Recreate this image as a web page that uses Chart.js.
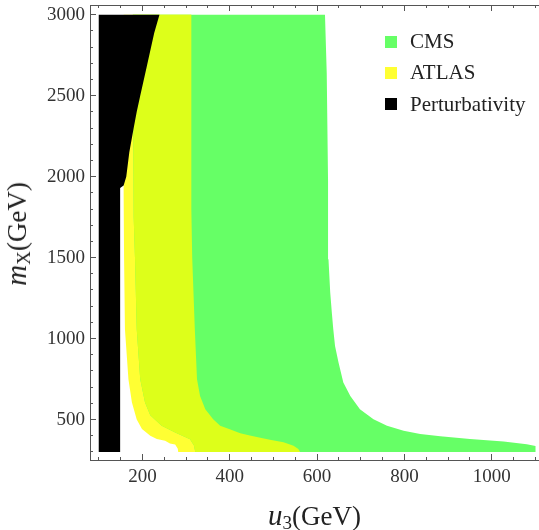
<!DOCTYPE html>
<html>
<head>
<meta charset="utf-8">
<script src="https://cdn.jsdelivr.net/npm/chart.js@4.4.0/dist/chart.umd.min.js"></script>
<style>
body { margin: 0; background: #fff; }
#wrap { position: relative; width: 539px; height: 530px; font-family: "Liberation Serif", "Times New Roman", serif; color: #222; }
#legend { position: absolute; left: 385px; top: 26px; font-size: 21px; }
#legend .row { display: flex; align-items: center; height: 31.3px; }
#legend .box { width: 12px; height: 12px; margin-right: 13px; }
.title { position: absolute; font-size: 27px; line-height: 27px; white-space: nowrap; }
.title i { font-size: 29px; }
.title .sub { font-size: 19px; position: relative; top: 4px; }
#xTitle { left: 90px; width: 449px; top: 502px; text-align: center; }
#yTitle { left: 18px; top: 234px; transform: translate(-50%, -50%) rotate(-90deg); }
</style>
</head>
<body>
<div id="wrap">
  <canvas id="chart" width="539" height="530"></canvas>
  <div id="legend"></div>
  <div class="title" id="xTitle"><i>u</i><span class="sub">3</span>(GeV)</div>
  <div class="title" id="yTitle"><i>m</i><span class="sub">X</span>(GeV)</div>
</div>
<script>
// region boundaries (u3 in GeV, mX in GeV)
var blackX = [100, 149, 149, 157, 163, 170, 180, 187, 195, 210, 227, 239, 100];
var blackY = [300, 300, 1930, 1945, 2000, 2150, 2300, 2400, 2500, 2680, 2887, 3000, 3000];

// ATLAS left edge, top to bottom
var atlasLeftX = [157, 157, 158, 160, 168, 176, 187, 199, 218, 233, 252, 263, 275, 281, 282];
var atlasLeftY = [3000, 1900, 1500, 1057, 749, 605, 500, 441, 400, 380, 369, 352, 345, 320, 300];
// ATLAS right edge, bottom to top
var atlasRightX = [561, 557, 546, 523, 492, 470, 446, 424, 400, 378, 362, 344, 332, 325, 320, 314, 312, 312];
var atlasRightY = [300, 318, 338, 360, 375, 388, 402, 415, 440, 461, 502, 564, 646, 749, 1057, 1500, 1800, 3000];

// CMS left edge, top to bottom
var cmsLeftX = [178, 180, 183, 187, 195, 206, 218, 244, 275, 309, 318, 321];
var cmsLeftY = [3000, 1750, 1500, 1057, 749, 605, 526, 461, 420, 378, 340, 300];
// CMS right edge, bottom to top
var cmsRightX = [1100, 1100, 1080, 1027, 950, 882, 836, 798, 760, 729, 698, 676, 660, 649, 641, 637, 634, 630, 626, 625, 622, 618];
var cmsRightY = [300, 336, 347, 364, 379, 396, 410, 430, 461, 502, 564, 646, 729, 852, 954, 1057, 1150, 1284, 1490, 1972, 2642, 3000];

var xTicks = [200, 400, 600, 800, 1000];
var yTicks = [500, 1000, 1500, 2000, 2500, 3000];

var legendNames = ['CMS', 'ATLAS', 'Perturbativity'];
var legendColors = ['#66ff66', '#ffff33', '#000000'];

function pts(xs, ys) {
  return xs.map(function (x, i) { return {x: x, y: ys[i]}; });
}
function closed(p) { return p.concat([p[0]]); }
function steps(from, to, step) {
  var out = [];
  for (var v = from; v <= to; v += step) out.push(v);
  return out;
}

var blackPts = closed(pts(blackX, blackY));
var atlasPts = closed(pts(atlasLeftX, atlasLeftY).concat(pts(atlasRightX, atlasRightY)));
var cmsPts = closed(pts(cmsLeftX, cmsLeftY).concat(pts(cmsRightX, cmsRightY)));
var bothPts = closed(pts(cmsLeftX, cmsLeftY).concat(pts(atlasRightX, atlasRightY)));

function region(label, data, color, order) {
  return {label: label, data: data, showLine: true, fill: 'shape', backgroundColor: color,
    borderColor: 'rgba(0,0,0,0)', borderWidth: 0, pointRadius: 0, pointHoverRadius: 0, order: order};
}

var tickFont = {family: 'Liberation Serif', size: 19};
var frame = '#555';

function axis(pos, min, max, values, len, labels, weight, size) {
  return {
    type: 'linear', position: pos, min: min, max: max, weight: weight,
    grid: {drawOnChartArea: false, tickLength: len, color: frame},
    border: {display: true, color: frame},
    afterBuildTicks: function (s) {
      s.ticks = values.map(function (v) { return {value: v}; });
    },
    ticks: {autoSkip: false, maxRotation: 0, display: labels, font: tickFont, color: '#333',
      padding: pos === 'left' ? 11 : 12,
      callback: function (v) { return String(v); }},
    afterFit: function (s) {
      if (pos === 'left') s.width = size; else s.height = size;
      s.paddingTop = 0; s.paddingBottom = 0; s.paddingLeft = 0; s.paddingRight = 0;
    }
  };
}

var ctx = document.getElementById('chart').getContext('2d');
var chart = new Chart(ctx, {
  type: 'scatter',
  data: {
    datasets: [
      region('Perturbativity', blackPts, legendColors[2], 0),
      region('both', bothPts, '#ddff1a', 1),
      region('CMS', cmsPts, legendColors[0], 2),
      region('ATLAS', atlasPts, legendColors[1], 3)
    ]
  },
  options: {
    responsive: false,
    animation: false,
    layout: {padding: {top: 5, right: 0, bottom: 0, left: 0}},
    plugins: {legend: {display: false}, tooltip: {enabled: false}},
    scales: {
      x: axis('bottom', 80, 1108, xTicks, -6, true, 1, 70),
      xMinor: axis('bottom', 80, 1108, steps(100, 1100, 50), -3, false, 0, 0),
      xTop: axis('top', 80, 1108, xTicks, -6, false, 0, 0),
      xTopMinor: axis('top', 80, 1108, steps(100, 1100, 50), -3, false, 1, 0),
      y: axis('left', 250, 3060, yTicks, -6, true, 1, 90),
      yMinor: axis('left', 250, 3060, steps(300, 3000, 100), -3, false, 0, 0)
    }
  }
});

var legend = document.getElementById('legend');
legendNames.forEach(function (name, i) {
  var row = document.createElement('div');
  row.className = 'row';
  row.innerHTML = '<span class="box" style="background:' + legendColors[i] + '"></span><span>' + name + '</span>';
  legend.appendChild(row);
});
</script>
</body>
</html>
